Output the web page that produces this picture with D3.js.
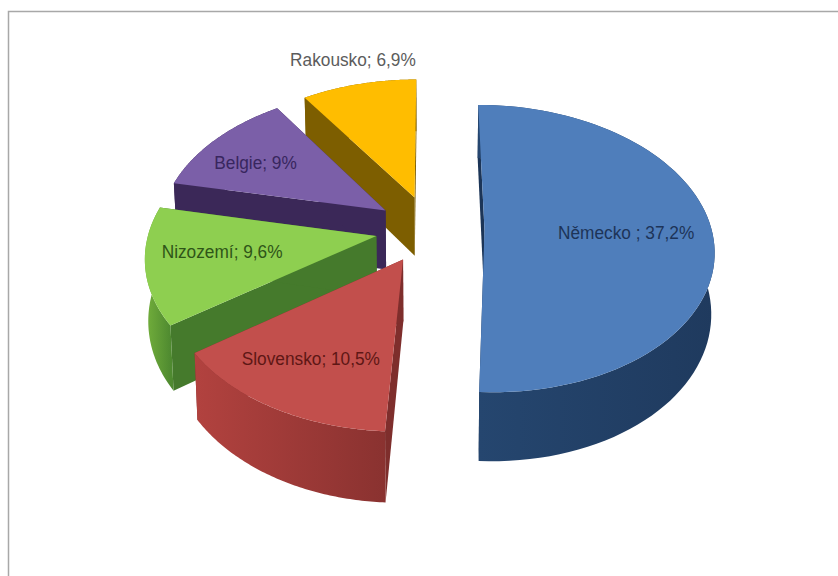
<!DOCTYPE html>
<html lang="cs">
<head>
<meta charset="utf-8">
<script src="https://cdn.jsdelivr.net/npm/d3@7"></script>
<style>
  html, body { margin: 0; padding: 0; background: #fff; }
  svg { display: block; }
  text { font-family: "Liberation Sans", sans-serif; }
</style>
</head>
<body>
<svg id="chart" width="838" height="576"></svg>
<script>
// Podíly zemí
const countries = ["Německo", "Slovensko", "Nizozemí", "Belgie", "Rakousko"];
const shares = [37.2, 10.5, 9.6, 9, 6.9];
const separators = [" ; ", "; ", "; ", "; ", "; "];

// Slice colours: top face, wall (back-facing edge), rim dark and rim light ends, label
const topColors = ["#4f7ebb", "#c24f4c", "#8ecf50", "#7b5fa8", "#ffbd00"];
const wallColors = ["#1c3557", "#7e2e2c", "#457a2c", "#3b2858", "#7d5e00"];
const rimDark = ["#1f3a5e", "#8a3230", "#4f8a30", "#3b2858", "#7d5e00"];
const rimLight = ["#25466f", "#b2423f", "#74b03c", "#3b2858", "#7d5e00"];
const labelColors = ["#1d3458", "#5e1715", "#2f5518", "#38265e", "#5c5c5c"];

// Label placement: fraction along the bisector, then pixel nudge
const labelFractions = [0.6, 0.62, 0.66, 0.62, 1.12];
const labelNudgeX = [5, -15, -3, -22, 0];
const labelNudgeY = [2, 13, -3, -1, -11];

// Projected pie geometry
const centre = { x: 430, y: 229 };
const radiusX = 227, radiusY = 141, perspective = 0.13;
const explode = 0.24, depth = 60, depthShrink = 0.012;

const svg = d3.select("#chart");
const defs = svg.append("defs");

const arcs = d3.pie().sort(null).value(d => d)(shares);

// Map pie coordinates (u to the right, v toward the viewer, z down) to the screen
function project(u, v, z) {
  const s = 1 / (1 - perspective * v);
  const shrink = 1 - depthShrink * z;
  return [
    centre.x + radiusX * u * s * shrink,
    centre.y + radiusY * v * s + depth * z * s
  ];
}

const line = d3.line();

function sliceGeometry(a) {
  const mid = (a.startAngle + a.endAngle) / 2;
  const ox = Math.sin(mid) * explode;
  const oy = -Math.cos(mid) * explode;
  const rimAt = (t, z) => project(ox + Math.sin(t), oy - Math.cos(t), z);
  const steps = d3.range(0, 81).map(i => a.startAngle + (a.endAngle - a.startAngle) * i / 80);
  return { mid, ox, oy, rimAt, steps, apex: z => project(ox, oy, z) };
}

// Frame around the chart
svg.append("path")
  .attr("d", line([[8.5, 576], [8.5, 11.5], [838, 11.5]]))
  .attr("fill", "none").attr("stroke", "#a8a8a8").attr("stroke-width", 1.5);

// Painted from the back slice forward
const order = [4, 3, 2, 1, 0];
order.forEach(i => {
  const a = arcs[i];
  const g = sliceGeometry(a);
  const group = svg.append("g");

  const gradId = "rim" + i;
  const pts = g.steps.map(t => g.rimAt(t, 0));
  const xs = d3.extent(pts, p => p[0]);
  const grad = defs.append("linearGradient").attr("id", gradId)
    .attr("gradientUnits", "userSpaceOnUse")
    .attr("x1", xs[0]).attr("x2", xs[1]).attr("y1", 0).attr("y2", 0);
  grad.append("stop").attr("offset", 0).attr("stop-color", rimLight[i]);
  grad.append("stop").attr("offset", 1).attr("stop-color", rimDark[i]);

  // Radial walls
  [a.startAngle, a.endAngle].forEach(t => {
    group.append("path")
      .attr("d", line([g.apex(0), g.rimAt(t, 0), g.rimAt(t, 1), g.apex(1)]) + "Z")
      .attr("fill", wallColors[i]);
  });

  // Outer rim
  const rimPts = g.steps.map(t => g.rimAt(t, 0))
    .concat(g.steps.slice().reverse().map(t => g.rimAt(t, 1)));
  group.append("path").attr("d", line(rimPts) + "Z").attr("fill", `url(#${gradId})`);

  // Top face
  group.append("path")
    .attr("d", line([g.apex(0)].concat(pts)) + "Z")
    .attr("fill", topColors[i]);
});

// Data labels, set slightly condensed
arcs.forEach((a, i) => {
  const g = sliceGeometry(a);
  const f = labelFractions[i];
  const p = project(g.ox + Math.sin(g.mid) * f, g.oy - Math.cos(g.mid) * f, 0);
  svg.append("text")
    .attr("transform", `translate(${p[0] + labelNudgeX[i]},${p[1] + labelNudgeY[i]}) scale(0.96,1.05)`)
    .attr("text-anchor", "middle")
    .attr("dominant-baseline", "middle")
    .attr("font-size", 18)
    .attr("fill", labelColors[i])
    .text(countries[i] + separators[i] + String(shares[i]).replace(".", ",") + "%");
});
</script>
</body>
</html>
